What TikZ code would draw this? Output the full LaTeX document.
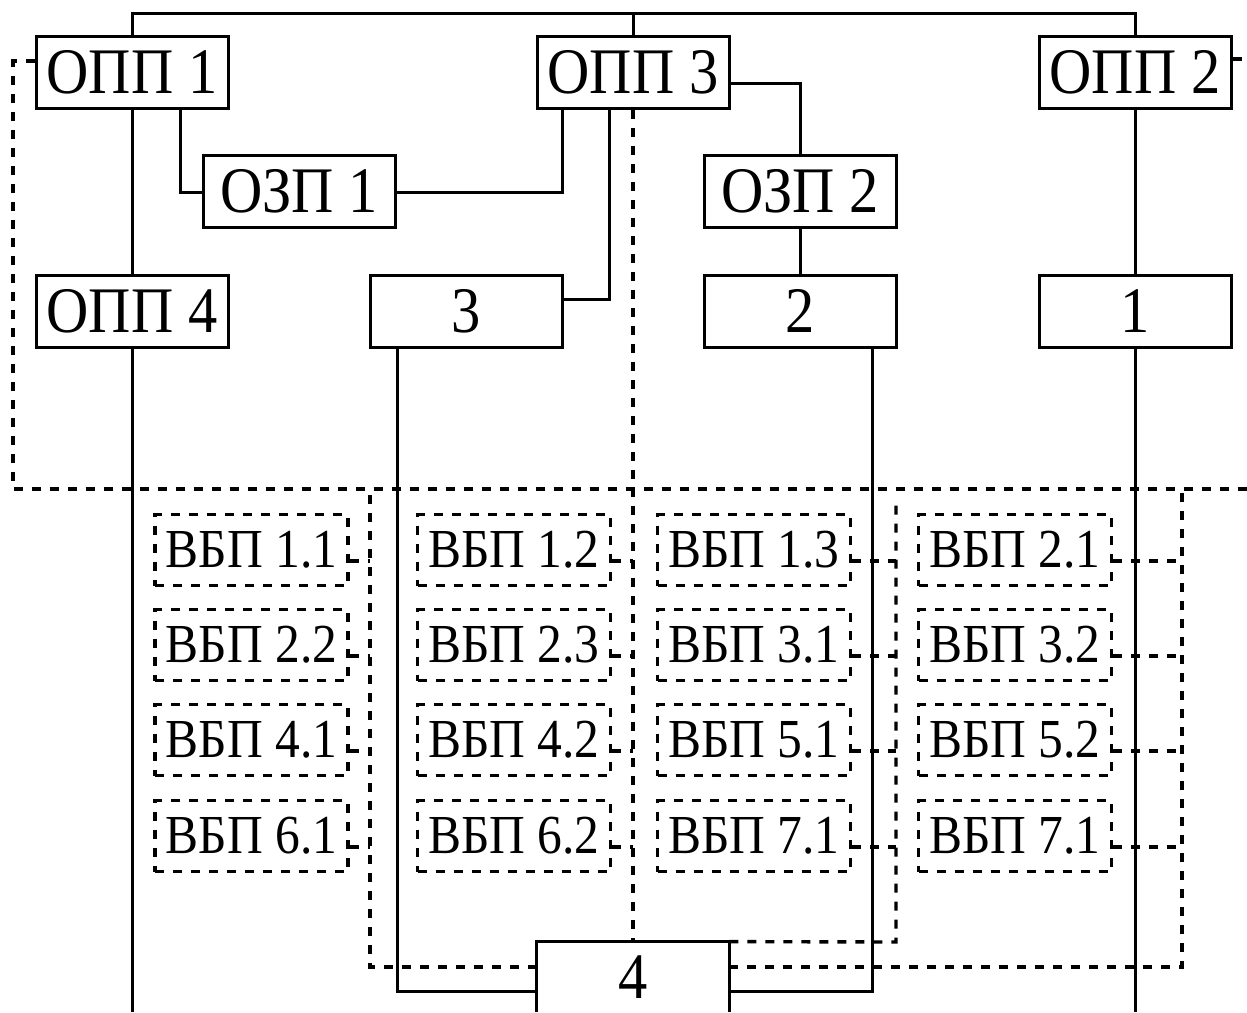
\documentclass[tikz,border=0pt]{standalone}
\usepackage{fontspec}
\setmainfont{Liberation Serif}[FakeStretch=0.9]
\begin{document}
\begin{tikzpicture}[x=0.5pt,y=-0.5pt,
  solidline/.style={line width=1.5pt},
  dotline/.style={line width=1.7pt, dash pattern=on 4.5pt off 4.5pt},
  bigbox/.style={draw, solidline, fill=white, inner sep=0pt, minimum width=96pt, minimum height=36pt, font=\fontsize{32.5}{36}\selectfont},
  openbox/.style={fill=white, inner sep=0pt, minimum width=96pt, minimum height=35pt, font=\fontsize{32.5}{36}\selectfont},
  vbox/.style={draw, dotline, inner sep=0pt, minimum width=96.5pt, minimum height=35.5pt, font=\fontsize{27.5}{30}\selectfont}]
\useasboundingbox (0,0) rectangle (1247,1012);
\fill[white] (0,0) rectangle (1247,1012);

% solid boxes
\node[bigbox] (opp1) at (132,72.5) {ОПП 1};
\node[bigbox] (opp3) at (633,72.5) {ОПП 3};
\node[bigbox] (opp2) at (1135,72.5) {ОПП 2};
\node[bigbox] (ozp1) at (299,191.5) {ОЗП 1};
\node[bigbox] (ozp2) at (800,191.5) {ОЗП 2};
\node[bigbox] (opp4) at (132,311) {ОПП 4};
\node[bigbox] (b3) at (466.5,311) {3};
\node[bigbox] (b2) at (800,311) {2};
\node[bigbox] (b1) at (1135,311) {1};
\node[openbox] (b4) at (633,977) {4};
\draw[solidline] (b4.south west) -- (b4.north west) -- (b4.north east) -- (b4.south east);

% solid connections
\coordinate (busL) at (132,13);
\coordinate (busR) at (1135,13);
\coordinate (bottomL) at (132,1012);
\coordinate (bottomR) at (1135,1012);
\draw[solidline] (opp1.north) -- (busL) -- (busR) -- (opp2.north);
\draw[solidline] (opp3.north) -- (opp3.north |- busL);
\draw[solidline] (180,0 |- opp1.south) -- (180,192) -- (ozp1.west |- 0,192);
\draw[solidline] (ozp1.east |- 0,192) -- (562,192) -- (562,0 |- opp3.south);
\draw[solidline] (609,0 |- opp3.south) -- (609,299) -- (b3.east |- 0,299);
\draw[solidline] (opp3.east |- 0,83) -- (800,83) -- (ozp2.north);
\draw[solidline] (ozp2.south) -- (b2.north);
\draw[solidline] (opp1.south) -- (opp4.north);
\draw[solidline] (opp4.south) -- (bottomL);
\draw[solidline] (opp2.south) -- (b1.north);
\draw[solidline] (b1.south) -- (bottomR);
\draw[solidline] (397,0 |- b3.south) -- (397,991) -- (b4.west |- 0,991);
\draw[solidline] (872,0 |- b2.south) -- (872,991) -- (b4.east |- 0,991);

% dotted boxes
\node[vbox] (v11) at (251.5,550) {ВБП 1.1};
\node[vbox] (v22) at (251.5,645) {ВБП 2.2};
\node[vbox] (v41) at (251.5,740) {ВБП 4.1};
\node[vbox] (v61) at (251.5,836) {ВБП 6.1};
\node[vbox] (v12) at (514,550) {ВБП 1.2};
\node[vbox] (v23) at (514,645) {ВБП 2.3};
\node[vbox] (v42) at (514,740) {ВБП 4.2};
\node[vbox] (v62) at (514,836) {ВБП 6.2};
\node[vbox] (v13) at (754,550) {ВБП 1.3};
\node[vbox] (v31) at (754,645) {ВБП 3.1};
\node[vbox] (v51) at (754,740) {ВБП 5.1};
\node[vbox] (v71a) at (754,836) {ВБП 7.1};
\node[vbox] (v21) at (1015,550) {ВБП 2.1};
\node[vbox] (v32) at (1015,645) {ВБП 3.2};
\node[vbox] (v52) at (1015,740) {ВБП 5.2};
\node[vbox] (v71b) at (1015,836) {ВБП 7.1};

% dotted lines
\coordinate (tlc) at (13,61);
\coordinate (blc) at (13,489);
\coordinate (rend) at (1247,489);
\draw[dotline] (opp1.west |- tlc) -- (tlc) -- (blc) -- (rend);
\draw[dotline] (opp2.east |- 0,59) -- (1247,59);
\draw[dotline] (opp3.south) -- (b4.north);
\coordinate (L1t) at (370,489);
\coordinate (L1b) at (370,967);
\coordinate (L3t) at (896,498);
\coordinate (L3b) at (896,942);
\coordinate (L4t) at (1182,489);
\coordinate (L4b) at (1182,967);
\draw[dotline] (b4.west |- L1b) -- (L1b) -- (L1t);
\draw[dotline] (b4.north east) -- (L3b) -- (L3t);
\draw[dotline] (b4.east |- L4b) -- (L4b) -- (L4t);

\foreach \v/\L in {v11/L1t, v22/L1t, v41/L1t, v61/L1t,
                   v12/opp3, v23/opp3, v42/opp3, v62/opp3,
                   v13/L3t, v31/L3t, v51/L3t, v71a/L3t,
                   v21/L4t, v32/L4t, v52/L4t, v71b/L4t} {
  \coordinate (cc) at ([yshift=-5.5pt]\v.east);
  \draw[dotline] (cc) -- (cc -| \L);
}
\end{tikzpicture}
\end{document}
